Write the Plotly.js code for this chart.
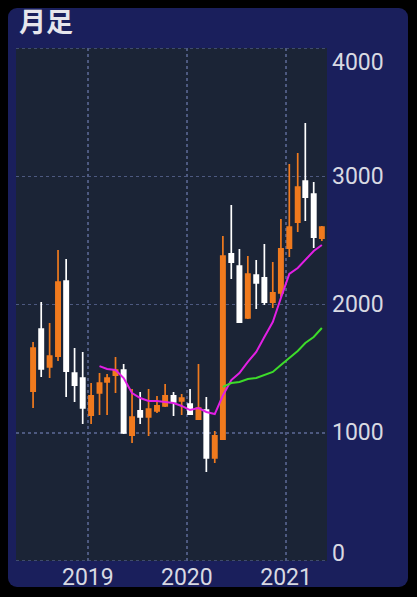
<!DOCTYPE html>
<html>
<head>
<meta charset="utf-8">
<script src="https://cdn.plot.ly/plotly-3.0.1.min.js"></script>
<style>
  html, body { margin: 0; padding: 0; background: #000; width: 417px; height: 597px; overflow: hidden; }
  #card { position: absolute; left: 8px; top: 8px; width: 400px; height: 579px; background: #1a1f5c; border-radius: 9px; }
  #chart { position: absolute; left: 0; top: 0; width: 417px; height: 597px; }
</style>
</head>
<body>
<div id="card"></div>
<div id="chart"></div>
<script>
// Monthly candles (月足)
const months = ["2018-06-13","2018-07-13","2018-08-13","2018-09-13","2018-10-13","2018-11-13","2018-12-13",
  "2019-01-13","2019-02-13","2019-03-13","2019-04-13","2019-05-13","2019-06-13","2019-07-13","2019-08-13",
  "2019-09-13","2019-10-13","2019-11-13","2019-12-13","2020-01-13","2020-02-13","2020-03-13","2020-04-13",
  "2020-05-13","2020-06-13","2020-07-13","2020-08-13","2020-09-13","2020-10-13","2020-11-13","2020-12-13",
  "2021-01-13","2021-02-13","2021-03-13","2021-04-13","2021-05-13"];
const openVals  = [1325,1809,1513,1598,2183,1466,1427,1138,1310,1396,1450,1489, 982,1170,1123,1170,1209,1287,1248,1224,1107,1177, 803, 951,2394,2300,1895,2230,2207,2019,2090,2440,2643,2963,2861,2518];
const highVals  = [1708,2019,1856,2425,2355,1661,1630,1388,1466,1458,1591,1536,1341,1318,1341,1287,1380,1318,1302,1341,1536,1279,1014,2534,2776,2433,2378,2347,2472,2331,2667,3095,3181,3415,2955,2612];
const lowVals   = [1193,1435,1427,1559,1279,1240,1068,1068,1138,1138,1310, 990, 920,1068, 975,1154,1201,1131,1138,1140,1099, 694, 764, 945,2199,1858,1887,1965,1996,1973,2058,2370,2565,2651,2440,2495];
const closeVals = [1661,1497,1598,2175,1481,1372,1193,1287,1388,1427,1489, 998,1123,1123,1185,1209,1287,1240,1271,1146,1193, 803, 975,2378,2331,1863,2238,2168,2019,2090,2433,2604,2916,2838,2526,2604];

// 9-month moving average (magenta)
const ma9Dates = months.slice(8);
const ma9Vals  = [1520,1497,1489,1427,1310,1271,1248,1248,1240,1232,1209,1177,1193,1162,1146,1290,1411,1466,1552,1630,1747,1863,2051,2238,2285,2347,2417,2464];
// 24-month moving average (green)
const ma24Dates = months.slice(23);
const ma24Vals  = [1357,1388,1396,1419,1427,1450,1474,1528,1583,1637,1700,1747,1817];

const yTickVals = [0,1000,2000,3000,4000];
const yTickText = ["0","1000","2000","3000","4000"];
const yTickShift = [8,0,0,0,-14];
const yEdgeVals = [0,4000];

const labelFont = {family: "Roboto, sans-serif", size: 23, color: "#d8d9e2"};
const gridColor = "#4d5980";

const traces = [
  {
    type: "candlestick",
    x: months, open: openVals, high: highVals, low: lowVals, close: closeVals,
    increasing: {line: {color: "#f07a1e", width: 1.7}, fillcolor: "#f07a1e"},
    decreasing: {line: {color: "#ffffff", width: 1.7}, fillcolor: "#ffffff"},
    whiskerwidth: 0,
    hoverinfo: "skip",
    showlegend: false
  },
  {
    type: "scatter", mode: "lines", x: ma9Dates, y: ma9Vals,
    line: {color: "#e21fe4", width: 2}, hoverinfo: "skip", showlegend: false
  },
  {
    type: "scatter", mode: "lines", x: ma24Dates, y: ma24Vals,
    line: {color: "#3ddc2a", width: 2}, hoverinfo: "skip", showlegend: false
  }
];

const annotations = yTickVals.map((v, i) => ({
  xref: "paper", yref: "y", x: 1, y: v, xshift: 3, yshift: yTickShift[i],
  xanchor: "left", yanchor: "middle", showarrow: false,
  text: yTickText[i], font: labelFont
}));

const shapes = yEdgeVals.map(v => ({
  type: "line", xref: "paper", yref: "y", x0: 0, x1: 1, y0: v, y1: v,
  line: {color: gridColor, width: 1.5, dash: "dot"}, layer: "below"
}));

const layout = {
  width: 417, height: 597,
  margin: {l: 16, r: 90, t: 48, b: 36, pad: 0},
  paper_bgcolor: "rgba(0,0,0,0)",
  plot_bgcolor: "#1b2436",
  boxgap: 0.2,
  title: {
    text: "<b>月足</b>",
    font: {family: "Noto Sans CJK JP, sans-serif", size: 27, color: "#e6e6ec"},
    xref: "container", yref: "container",
    x: 19/417, xanchor: "left", y: 1 - 23/597, yanchor: "middle"
  },
  xaxis: {
    type: "date",
    range: ["2018-04-11", "2021-06-01"],
    tick0: "2019-01-01", dtick: "M12", tickformat: "%Y",
    showgrid: true, gridcolor: gridColor, gridwidth: 1.5, griddash: "dot",
    zeroline: false, showline: false, ticks: "",
    tickfont: labelFont,
    rangeslider: {visible: false},
    fixedrange: true
  },
  yaxis: {
    range: [0, 4000],
    tickvals: yTickVals, showticklabels: false,
    showgrid: true, gridcolor: gridColor, gridwidth: 1.5, griddash: "dot",
    zeroline: false, showline: false, ticks: "",
    fixedrange: true
  },
  shapes: shapes,
  annotations: annotations
};

Plotly.newPlot("chart", traces, layout, {staticPlot: true, displayModeBar: false});
</script>
</body>
</html>
